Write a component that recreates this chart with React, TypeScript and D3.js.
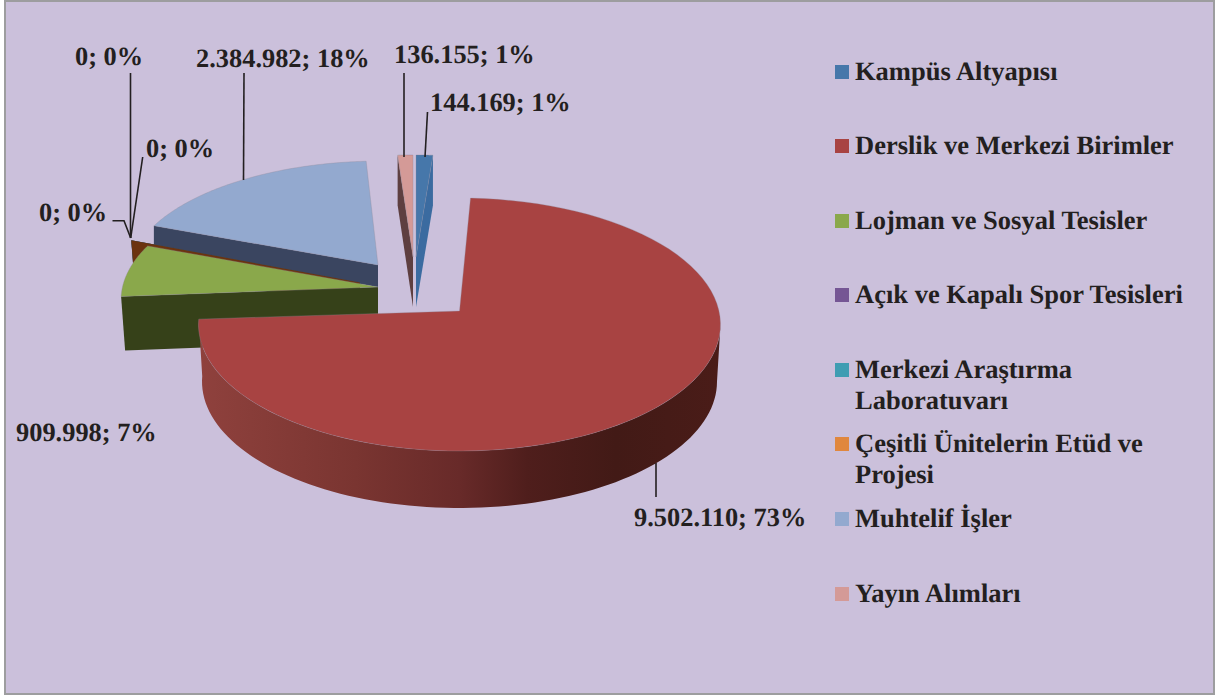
import React from "react";
import * as d3 from "d3";

// ---- data ----
const categories = [
  "Kampüs Altyapısı",
  "Derslik ve Merkezi Birimler",
  "Lojman ve Sosyal Tesisler",
  "Açık ve Kapalı Spor Tesisleri",
  "Merkezi Araştırma Laboratuvarı",
  "Çeşitli Ünitelerin Etüd ve Projesi",
  "Muhtelif İşler",
  "Yayın Alımları",
];
const values = [144169, 9502110, 909998, 0, 0, 0, 2384982, 136155];
const legendLines = [
  ["Kampüs Altyapısı"],
  ["Derslik ve Merkezi Birimler"],
  ["Lojman ve Sosyal Tesisler"],
  ["Açık ve Kapalı Spor Tesisleri"],
  ["Merkezi Araştırma", "Laboratuvarı"],
  ["Çeşitli Ünitelerin Etüd ve", "Projesi"],
  ["Muhtelif İşler"],
  ["Yayın Alımları"],
];

// ---- styles ----
const topColors = ["#4677aa", "#a84342", "#8aa84b", "#755694", "#3f9db2", "#e0873e", "#93a9cf", "#d49a97"];
const wallColors = ["#3b6ba0", "url(#redWall)", "#364119", "#4a3560", "#25606e", "#6b3310", "#3a4560", "#5e3f40"];
const BG = "#cbc0db";
const INK = "#231f20";
const SERIF = "'Liberation Serif', serif";

// ---- layout: 3D projection of every slice (apex, radii, ellipse offset, wall depth) ----
type Wall = "start" | "end" | "arc" | "none";
const geometry = [
  { ax: 416, ay: 257, rx: 269, ry: 112, off: 10, offX: 0, xk: 1, depth: 50, wallDx: 0, wall: "end" as Wall },
  { ax: 459.5, ay: 311, rx: 261, ry: 126.5, off: 13.5, offX: 0, xk: 0.68, depth: 57, wallDx: 0, wall: "arc" as Wall },
  { ax: 378, ay: 287, rx: 257, ry: 122, off: 13, offX: 0, xk: 1, depth: 54, wallDx: 4, wall: "start" as Wall },
  { ax: 360, ay: 282.5, rx: 254, ry: 125, off: 12, offX: 0, xk: 1, depth: 25, wallDx: 2, wall: "start" as Wall },
  { ax: 360, ay: 282.5, rx: 254, ry: 125, off: 12, offX: 0, xk: 1, depth: 25, wallDx: 2, wall: "start" as Wall },
  { ax: 360, ay: 282.5, rx: 254, ry: 125, off: 12, offX: 0, xk: 1, depth: 25, wallDx: 2, wall: "start" as Wall },
  { ax: 378, ay: 265, rx: 253, ry: 116, off: 12, offX: 3, xk: 1, depth: 22, wallDx: 0, wall: "start" as Wall },
  { ax: 413, ay: 257, rx: 258, ry: 112, off: 10, offX: 0, xk: 1, depth: 50, wallDx: 0, wall: "start" as Wall },
];
const drawOrder = [6, 3, 4, 5, 2, 7, 0, 1];

const labelPos = [
  { x: 430, y: 111 },
  { x: 634, y: 526 },
  { x: 16, y: 441 },
  { x: 39, y: 221 },
  { x: 146, y: 157 },
  { x: 75, y: 65 },
  { x: 196, y: 67 },
  { x: 394, y: 63 },
];
const leaders: [number, number][][] = [
  [[427.5, 112], [425, 157]],
  [[656, 463], [656, 497]],
  [],
  [[112.5, 220.7], [124, 220.7], [130.7, 238]],
  [[142.7, 157], [130.7, 238]],
  [[130.5, 73], [130.5, 238]],
  [[244, 73], [243.5, 180]],
  [[404, 73], [404, 157]],
];
const legendY = [80, 154, 229, 303, 378, 452, 527, 602];

// ---- helpers ----
const fmt = d3.formatLocale({ decimal: ",", thousands: ".", grouping: [3], currency: ["", ""] }).format(",d");
const total = d3.sum(values);
const arcs = d3
  .pie<number>()
  .sort(null)
  .startAngle(0)
  .endAngle(2 * Math.PI)
  .value((d) => d)(values);

type Geo = (typeof geometry)[number];
const lineGen = d3.line<[number, number]>();

// point where the ray leaving the apex at pie angle a meets the rim ellipse
function rimParam(g: Geo, a: number): number {
  const s = Math.sin(a);
  const c = Math.cos(a);
  const e = g.off / g.ry;
  const b = c * e;
  const t = -b + Math.sqrt(b * b + 1 - e * e);
  const ex = s * t * g.xk;
  const ey = -c * t - e; // relative to the ellipse centre, in radii
  return Math.atan2(ex, -ey);
}
function rimPoint(g: Geo, phi: number, shift = 0, shrink = 0): [number, number] {
  return [g.ax + g.offX + (g.rx - shrink) * Math.sin(phi), g.ay + g.off + shift - g.ry * Math.cos(phi)];
}
function sample(from: number, to: number, n = 90): number[] {
  return d3.range(n + 1).map((i) => from + ((to - from) * i) / n);
}
function unwrap(start: number, end: number) {
  let e = end;
  while (e < start) e += 2 * Math.PI;
  return e;
}
function topPath(g: Geo, start: number, end: number) {
  const p0 = rimParam(g, start);
  const p1 = unwrap(p0, rimParam(g, end));
  const pts: [number, number][] = [[g.ax, g.ay], ...sample(p0, p1).map((p) => rimPoint(g, p))];
  return lineGen(pts) + "Z";
}
function wallPath(g: Geo, start: number, end: number) {
  if (g.wall === "none") return null;
  if (g.wall === "arc") {
    const p1 = unwrap(Math.PI / 2, rimParam(g, end));
    const ph = sample(Math.PI / 2, p1);
    const pts: [number, number][] = [
      ...ph.map((p) => rimPoint(g, p)),
      ...ph.slice().reverse().map((p) => rimPoint(g, p, g.depth, 3.5)),
    ];
    return lineGen(pts) + "Z";
  }
  const a = g.wall === "start" ? start : end;
  const r = rimPoint(g, rimParam(g, a));
  const pts: [number, number][] = [
    [g.ax, g.ay],
    r,
    [r[0] + g.wallDx, r[1] + g.depth],
    [g.ax, g.ay + g.depth],
  ];
  return lineGen(pts) + "Z";
}

export default function App() {
  const redStops: [string, string][] = [
    ["0%", "#8f413d"],
    ["30%", "#7a3531"],
    ["50%", "#682a29"],
    ["63%", "#4f1e1c"],
    ["80%", "#421a16"],
    ["100%", "#4a1c18"],
  ];
  return (
    <svg
      width={1215}
      height={695}
      viewBox="0 0 1215 695"
      style={{ position: "absolute", left: 0, top: 0, display: "block" }}
    >
      <defs>
        <linearGradient id="redWall" gradientUnits="userSpaceOnUse" x1={199} x2={720} y1={0} y2={0}>
          {redStops.map(([o, c]) => (
            <stop key={o} offset={o} stopColor={c} />
          ))}
        </linearGradient>
      </defs>
      <rect x={0} y={0} width={1215} height={695} fill="#ffffff" />
      <rect x={5} y={1} width={1209} height={693} fill={BG} stroke="#9d9d9f" strokeWidth={2} />

      {/* slices */}
      {drawOrder.map((i) => {
        const g = geometry[i];
        const { startAngle, endAngle } = arcs[i];
        const wall = wallPath(g, startAngle, endAngle);
        return (
          <g key={categories[i]}>
            {wall && <path d={wall} fill={wallColors[i]} />}
            {values[i] > 0 && (
              <path d={topPath(g, startAngle, endAngle)} fill={topColors[i]} stroke="#8f8a98" strokeOpacity={0.45} strokeWidth={0.7} />
            )}
          </g>
        );
      })}

      {/* leader lines */}
      {leaders.map((pts, i) =>
        pts.length ? (
          <path key={i} d={lineGen(pts) ?? ""} fill="none" stroke={INK} strokeWidth={1.6} />
        ) : null
      )}

      {/* data labels */}
      {values.map((v, i) => (
        <text
          key={i}
          x={labelPos[i].x}
          y={labelPos[i].y}
          fontFamily={SERIF}
          fontWeight="bold"
          fontSize={26.4}
          fill={INK}
          textRendering="geometricPrecision"
        >
          {`${fmt(v)}; ${Math.round((v / total) * 100)}%`}
        </text>
      ))}

      {/* legend */}
      {categories.map((c, i) => (
        <g key={c}>
          <rect x={835} y={legendY[i] - 15} width={14} height={14} fill={topColors[i]} />
          <text
            x={855}
            y={legendY[i]}
            fontFamily={SERIF}
            fontWeight="bold"
            fontSize={26.5}
            fill={INK}
            textRendering="geometricPrecision"
          >
            {legendLines[i].map((l, j) => (
              <tspan key={l} x={855} dy={j === 0 ? 0 : 31}>
                {l}
              </tspan>
            ))}
          </text>
        </g>
      ))}
    </svg>
  );
}
